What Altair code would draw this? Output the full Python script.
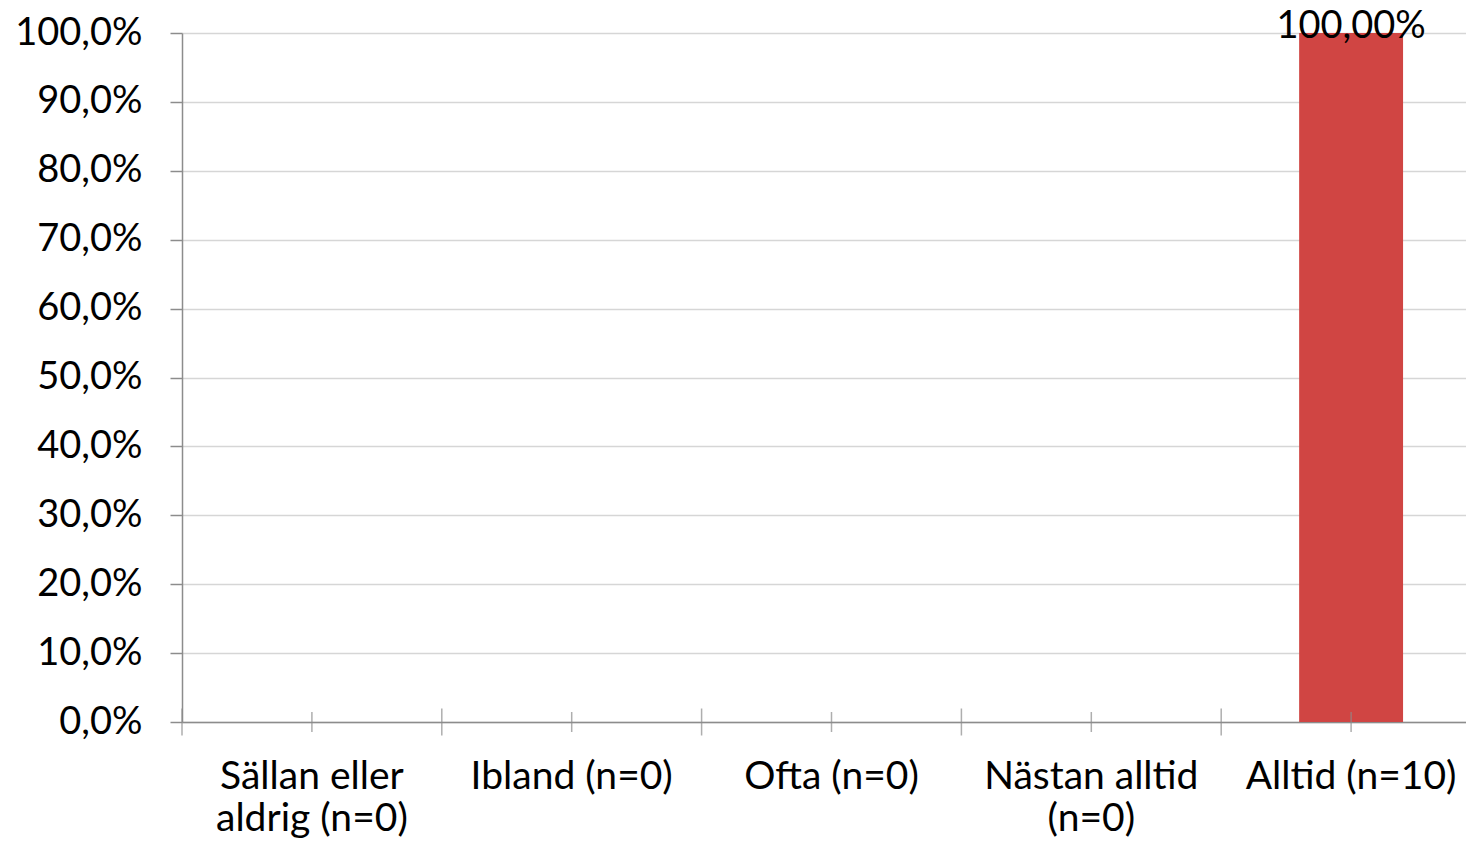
import altair as alt
import pandas as pd

# ---- data ----
categories = [
    "Sällan eller|aldrig  (n=0)",
    "Ibland (n=0)",
    "Ofta (n=0)",
    "Nästan alltid|(n=0)",
    "Alltid (n=10)",
]
shares = [0.0, 0.0, 0.0, 0.0, 1.0]
value_labels = ["", "", "", "", "100,00%"]
y_tick_values = [0.0, 0.1, 0.2, 0.3, 0.4, 0.5, 0.6, 0.7, 0.8, 0.9, 1.0]

df = pd.DataFrame({"cat": categories, "share": shares, "label": value_labels})

FONT = "Lato"
FS = 38
FS_X = 39
AXIS_GREY = "#8c8c8c"
GRID_GREY = "#d6d6d6"
BAR_RED = "#D04543"

x_main = alt.X(
    "cat:N",
    sort=categories,
    scale=alt.Scale(paddingInner=0, paddingOuter=0),
    axis=alt.Axis(
        title=None,
        labelAngle=0,
        labelExpr="split(datum.label, '|')",
        labelFont=FONT,
        labelFontSize=FS_X,
        labelColor="black",
        labelPadding=35,
        labelLineHeight=42,
        labelLimit=500,
        labelBaseline="top",
        ticks=False,
        grid=False,
        domainColor=AXIS_GREY,
        domainWidth=1.5,
    ),
)
y_main = alt.Y(
    "share:Q",
    scale=alt.Scale(domain=[0, 1], nice=False),
    axis=alt.Axis(
        title=None,
        values=y_tick_values,
        labelExpr="replace(format(datum.value, '.1%'), '.', ',')",
        labelFont=FONT,
        labelFontSize=FS,
        labelColor="black",
        labelPadding=28,
        tickSize=12,
        tickColor=AXIS_GREY,
        tickWidth=1.5,
        domainColor=AXIS_GREY,
        domainWidth=1.5,
        grid=True,
        gridColor=GRID_GREY,
        gridWidth=1.5,
    ),
)

base = alt.Chart(df)

bars = base.mark_bar(width=alt.RelativeBandSize(0.4), color=BAR_RED).encode(
    x=x_main, y=y_main
)

boundary_ticks = base.mark_tick(
    orient="vertical", size=27, thickness=1.5, color=AXIS_GREY
).encode(
    x=alt.X("cat:N", sort=categories, bandPosition=0),
    y=alt.datum(0),
)

center_ticks = base.mark_tick(
    orient="vertical", size=20, thickness=1.5, color=AXIS_GREY
).encode(
    x=alt.X("cat:N", sort=categories, bandPosition=0.5),
    y=alt.datum(0),
)

labels = base.transform_filter("datum.share > 0").mark_text(
    font=FONT, fontSize=FS, color="black", baseline="alphabetic", dy=5
).encode(
    x=alt.X("cat:N", sort=categories),
    y="share:Q",
    text="label:N",
)

chart = (
    alt.layer(bars, boundary_ticks, center_ticks, labels)
    .properties(
        width=1299,
        height=689,
        autosize=alt.AutoSizeParams(type="none"),
        padding={"left": 174, "top": 25, "right": -15, "bottom": 121},
        background="white",
    )
    .configure_view(stroke=None)
)

chart.save("out.html", embed_options={"renderer": "svg", "actions": False})
